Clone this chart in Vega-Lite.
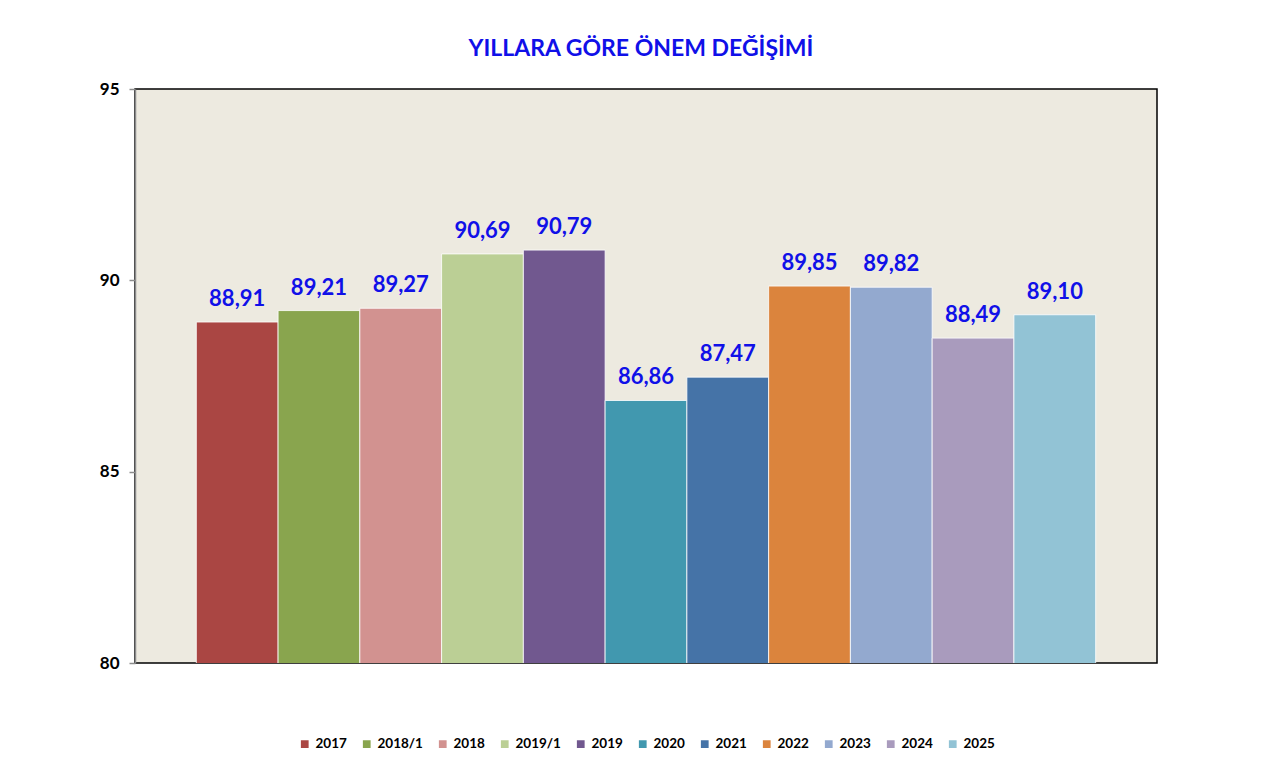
{
  "$schema": "https://vega.github.io/schema/vega-lite/v6.json",
  "width": 1022,
  "height": 574,
  "autosize": {"type": "none"},
  "padding": {"left": 135, "top": 89, "right": 128, "bottom": 104},
  "background": "white",
  "config": {
    "locale": {"number": {"decimal": ",", "thousands": ".", "grouping": [3], "currency": ["", ""]}},
    "view": {"fill": "#EDEAE0", "stroke": "#000000", "strokeWidth": 1.5},
    "font": "Lato",
    "legend": {"layout": {"bottom": {"anchor": "middle"}}}
  },
  "title": {
    "text": "YILLARA GÖRE ÖNEM DEĞİŞİMİ",
    "font": "Lato",
    "fontSize": 23,
    "fontWeight": "bold",
    "color": "#1010E8",
    "anchor": "middle",
    "dx": -5,
    "offset": 19
  },
  "data": {
    "values": [
      {"year": "2017", "value": 88.91},
      {"year": "2018/1", "value": 89.21},
      {"year": "2018", "value": 89.27},
      {"year": "2019/1", "value": 90.69},
      {"year": "2019", "value": 90.79},
      {"year": "2020", "value": 86.86},
      {"year": "2021", "value": 87.47},
      {"year": "2022", "value": 89.85},
      {"year": "2023", "value": 89.82},
      {"year": "2024", "value": 88.49},
      {"year": "2025", "value": 89.10}
    ]
  },
  "encoding": {
    "x": {
      "field": "year",
      "type": "nominal",
      "sort": null,
      "scale": {"paddingInner": 0, "paddingOuter": 0.75},
      "axis": null
    },
    "y": {
      "field": "value",
      "type": "quantitative",
      "scale": {"domain": [80, 95], "zero": false, "nice": false},
      "axis": {
        "values": [80, 85, 90, 95],
        "title": null,
        "grid": false,
        "domainColor": "#8C8C8C",
        "domainWidth": 1.5,
        "tickColor": "#8C8C8C",
        "tickSize": 6,
        "tickWidth": 1.5,
        "labelFont": "Lato",
        "labelFontSize": 17,
        "labelFontWeight": "bold",
        "labelColor": "#000000",
        "labelPadding": 10
      }
    }
  },
  "layer": [
    {
      "mark": {"type": "bar", "stroke": "white", "strokeWidth": 0.8, "clip": true},
      "encoding": {
        "color": {
          "field": "year",
          "type": "nominal",
          "sort": null,
          "scale": {
            "domain": ["2017", "2018/1", "2018", "2019/1", "2019", "2020", "2021", "2022", "2023", "2024", "2025"],
            "range": ["#AA4643", "#89A54E", "#D29290", "#BBCF95", "#71588F", "#4198AF", "#4573A7", "#DB843D", "#93A9CF", "#A99BBD", "#92C3D5"]
          },
          "legend": {
            "title": null,
            "orient": "bottom",
            "direction": "horizontal",
            "symbolType": "square",
            "symbolSize": 60,
            "symbolStrokeWidth": 0,
            "labelFont": "Lato",
            "labelFontSize": 13.5,
            "labelFontWeight": "bold",
            "labelColor": "#000000",
            "columnPadding": 13,
            "labelOffset": 4,
            "offset": 74
          }
        }
      }
    },
    {
      "mark": {"type": "text", "baseline": "bottom", "dy": -11, "font": "Lato", "fontSize": 22, "fontWeight": "bold", "color": "#1010E8"},
      "encoding": {
        "text": {"field": "value", "type": "quantitative", "format": ".2f"}
      }
    }
  ]
}
